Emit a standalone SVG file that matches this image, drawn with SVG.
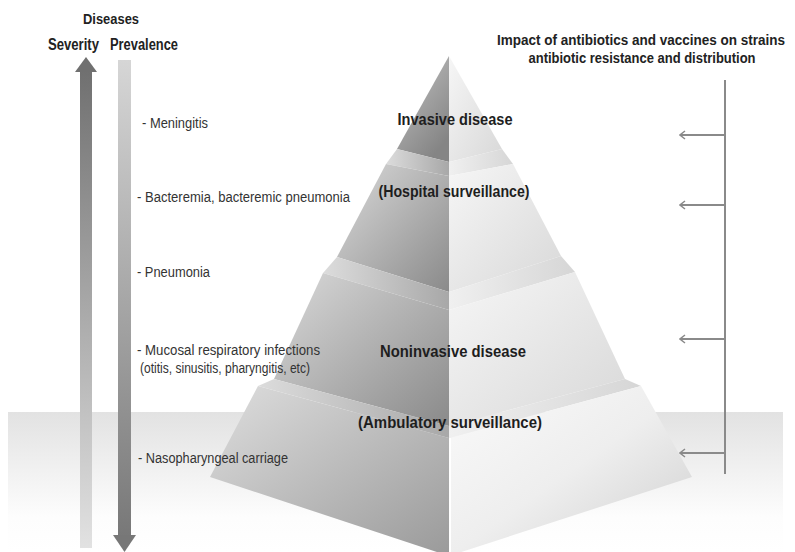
<svg xmlns="http://www.w3.org/2000/svg" width="795" height="552" viewBox="0 0 795 552">
<defs>
<style>
.hb{font-family:"Liberation Sans",Arial,sans-serif;font-weight:bold;fill:#222;}
.lt{font-family:"Liberation Sans",Arial,sans-serif;font-size:14px;fill:#333;}
.pl{font-family:"Liberation Sans",Arial,sans-serif;font-weight:bold;font-size:17px;fill:#1e1e1e;}
.imp{stroke:#8a8a8a;stroke-width:2;fill:none;}
</style>
<linearGradient id="floor" x1="0" y1="0" x2="0" y2="1">
<stop offset="0" stop-color="#e2e2e2"/><stop offset="0.75" stop-color="#fdfdfd"/><stop offset="1" stop-color="#ffffff"/>
</linearGradient>
<linearGradient id="sev" x1="0" y1="0" x2="0" y2="1">
<stop offset="0" stop-color="#707070"/><stop offset="1" stop-color="#e2e2e2"/>
</linearGradient>
<linearGradient id="prev" x1="0" y1="0" x2="0" y2="1">
<stop offset="0" stop-color="#d6d6d6"/><stop offset="1" stop-color="#787878"/>
</linearGradient>
<linearGradient id="L1" x1="0" y1="0" x2="0.6" y2="1">
<stop offset="0" stop-color="#c4c4c4"/><stop offset="1" stop-color="#858585"/>
</linearGradient>
<linearGradient id="L2" x1="0" y1="0" x2="1" y2="1">
<stop offset="0" stop-color="#dadada"/><stop offset="1" stop-color="#8a8a8a"/>
</linearGradient>
<linearGradient id="L4" x1="0" y1="0" x2="1" y2="1">
<stop offset="0" stop-color="#dedede"/><stop offset="1" stop-color="#9a9a9a"/>
</linearGradient>
<linearGradient id="R" x1="0" y1="0" x2="1" y2="1">
<stop offset="0" stop-color="#f6f6f6"/><stop offset="1" stop-color="#d8d8d8"/>
</linearGradient>
<linearGradient id="R4" x1="0" y1="0" x2="1" y2="1">
<stop offset="0" stop-color="#fafafa"/><stop offset="0.5" stop-color="#eeeeee"/><stop offset="1" stop-color="#cfcfcf"/>
</linearGradient>
<linearGradient id="BL" x1="0" y1="0" x2="1" y2="0">
<stop offset="0" stop-color="#dcdcdc"/><stop offset="1" stop-color="#a8a8a8"/>
</linearGradient>
<linearGradient id="BR" x1="0" y1="0" x2="1" y2="0">
<stop offset="0" stop-color="#f0f0f0"/><stop offset="1" stop-color="#d6d6d6"/>
</linearGradient>
<marker id="chev" markerWidth="10" markerHeight="10" refX="9" refY="5" orient="auto" markerUnits="userSpaceOnUse">
<path d="M4,1 L9,5 L4,9" fill="none" stroke="#8a8a8a" stroke-width="1.5"/>
</marker>
</defs>
<rect width="795" height="552" fill="#ffffff"/>
<rect id="floor-band" x="8" y="412" width="775" height="140" fill="url(#floor)"/>

<g id="severity-arrow">
<rect x="80" y="71" width="12" height="477" fill="url(#sev)"/>
<polygon points="86,57 97,72 75,72" fill="#707070"/>
</g>
<g id="prevalence-arrow">
<rect x="118" y="60" width="13" height="476" fill="url(#prev)"/>
<polygon points="113,535 136,535 124.5,552" fill="#777"/>
</g>
<g id="headers">
<text class="hb" x="111" y="24" font-size="15" text-anchor="middle" textLength="56" lengthAdjust="spacingAndGlyphs">Diseases</text>
<text class="hb" x="48" y="50" font-size="16" textLength="51" lengthAdjust="spacingAndGlyphs">Severity</text>
<text class="hb" x="110" y="50" font-size="16" textLength="68" lengthAdjust="spacingAndGlyphs">Prevalence</text>
</g>

<g id="pyramid">
<g id="tier-invasive">
<polygon points="449,56 397,149 449,162" fill="url(#L1)"/>
<polygon points="449,56 502,149 449,162" fill="url(#R)"/>
<polygon points="397,149 449,162 449,176 386,164" fill="url(#BL)"/>
<polygon points="449,162 502,149 513,164 449,176" fill="url(#BR)"/>
</g>
<g id="tier-hospital">
<polygon points="386,164 449,176 449,292 337,257" fill="url(#L2)"/>
<polygon points="449,176 513,164 561,256 449,292" fill="url(#R)"/>
<polygon points="337,257 449,292 449,310 323,273" fill="url(#BL)"/>
<polygon points="449,292 561,256 575,272 449,310" fill="url(#BR)"/>
</g>
<g id="tier-noninvasive">
<polygon points="323,273 449,310 449,426 274,379" fill="url(#L2)"/>
<polygon points="449,310 575,272 625,379 449,426" fill="url(#R)"/>
<polygon points="274,379 449,426 449,438 258,386" fill="url(#BL)"/>
<polygon points="449,426 625,379 641,386 449,438" fill="url(#BR)"/>
</g>
<g id="tier-ambulatory">
<polygon points="258,386 449,438 449,556 210,477" fill="url(#L4)"/>
<polygon points="449,438 641,386 692,477 449,556" fill="url(#R4)"/>
<line x1="450" y1="438" x2="450" y2="552" stroke="#ffffff" stroke-width="2"/>
</g>
<text class="pl" x="455" y="125" text-anchor="middle" textLength="115" lengthAdjust="spacingAndGlyphs">Invasive disease</text>
<text class="pl" x="454" y="197" text-anchor="middle" textLength="151" lengthAdjust="spacingAndGlyphs">(Hospital surveillance)</text>
<text class="pl" x="453" y="357" text-anchor="middle" textLength="146" lengthAdjust="spacingAndGlyphs">Noninvasive disease</text>
<text class="pl" x="450" y="428" text-anchor="middle" textLength="184" lengthAdjust="spacingAndGlyphs">(Ambulatory surveillance)</text>
</g>

<g id="disease-list">
<text class="lt" x="142" y="128" textLength="66" lengthAdjust="spacingAndGlyphs">- Meningitis</text>
<text class="lt" x="137" y="202" textLength="213" lengthAdjust="spacingAndGlyphs">- Bacteremia, bacteremic pneumonia</text>
<text class="lt" x="137" y="277" textLength="73" lengthAdjust="spacingAndGlyphs">- Pneumonia</text>
<text class="lt" x="137" y="355" textLength="183" lengthAdjust="spacingAndGlyphs">-  Mucosal respiratory infections</text>
<text class="lt" x="140" y="373" textLength="170" lengthAdjust="spacingAndGlyphs">(otitis, sinusitis, pharyngitis, etc)</text>
<text class="lt" x="138" y="463" textLength="150" lengthAdjust="spacingAndGlyphs">- Nasopharyngeal carriage</text>
</g>

<g id="impact-label">
<text class="hb" x="641" y="45" font-size="14" text-anchor="middle" textLength="288" lengthAdjust="spacingAndGlyphs">Impact of antibiotics  and vaccines on strains</text>
<text class="hb" x="642" y="63" font-size="14" text-anchor="middle" textLength="227" lengthAdjust="spacingAndGlyphs">antibiotic resistance and distribution</text>
</g>

<g id="connectors">
<line class="imp" x1="725" y1="80" x2="725" y2="474" stroke-width="2.5"/>
<line class="imp" x1="725" y1="135" x2="680" y2="135" stroke-width="1.5" marker-end="url(#chev)"/>
<line class="imp" x1="725" y1="205" x2="680" y2="205" stroke-width="1.5" marker-end="url(#chev)"/>
<line class="imp" x1="725" y1="339" x2="680" y2="339" stroke-width="1.5" marker-end="url(#chev)"/>
<line class="imp" x1="725" y1="453" x2="680" y2="453" stroke-width="1.5" marker-end="url(#chev)"/>
</g>
</svg>
